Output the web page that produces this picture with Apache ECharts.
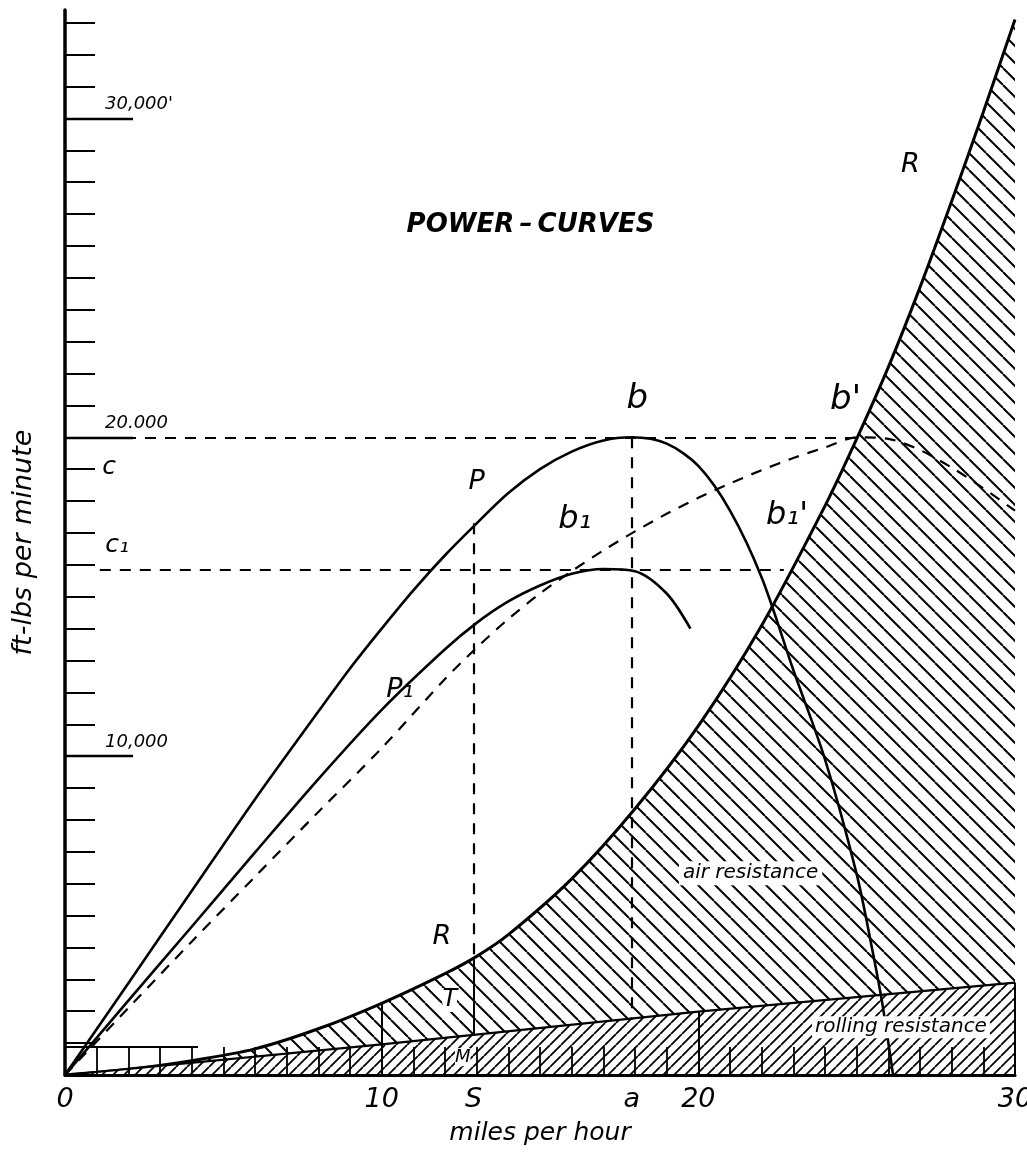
<!DOCTYPE html>
<html>
<head>
<meta charset="utf-8">
<title>Power curves</title>
<script src="https://cdn.jsdelivr.net/npm/echarts@6.0.0/dist/echarts.min.js"></script>
<style>
  html, body { margin: 0; padding: 0; background: #fff; }
  #chart { width: 1027px; height: 1162px; }
</style>
</head>
<body>
<div id="chart"></div>
<script>
// speed in miles per hour, power in ft-lbs per minute
const pCurve = [[0,0],[2,2880],[4,5770],[6,8650],[8,11400],[9,12750],[10,14000],[11,15200],[12,16300],[13,17300],[14,18250],[15,19000],[16,19550],[17,19900],[17.9,20000],[19,19800],[20,19100],[21,17700],[22,15600],[23,12700],[24,9900],[25,6300],[25.5,3900],[25.8,2300],[26.15,0]];
const p1Curve = [[0,0],[2,2330],[4,4650],[6,6980],[8,9280],[10,11450],[12,13350],[13,14180],[14,14850],[15,15350],[16,15720],[17,15870],[18,15800],[19,15100],[19.75,14000]];
const bCurve = [[0,0],[2,2100],[4,4180],[6,6220],[8,8250],[10,10250],[12,12420],[13,13400],[14,14300],[15,15100],[16,15800],[17,16450],[18,17050],[19,17600],[20,18100],[21,18550],[22,18970],[23,19350],[24,19680],[25,20000],[26,19950],[27,19600],[28,19050],[29,18400],[30,17700]];
const rCurve = [[0,0],[2,180],[4,450],[6,820],[8,1450],[10,2250],[12,3180],[13,3720],[14,4400],[16,6150],[18,8350],[20,10950],[22,14100],[24,17850],[25,19950],[26,22200],[27,24700],[28,27400],[29,30200],[30,33100]];
const rolling = [[0,0],[10,960],[20,1990],[30,2900]];

const xLabelValues = [0, 10, 12.9, 17.9, 20, 30];
const xLabelTexts = ['0', '10', 'S', 'a', '20', '30'];
const xTickValues = [0,1,2,3,4,5,6,7,8,9,10,11,12,13,14,15,16,17,18,19,20,21,22,23,24,25,26,27,28,29,30];
const yTickValues = [0,1000,2000,3000,4000,5000,6000,7000,8000,9000,10000,11000,12000,13000,14000,15000,16000,17000,18000,19000,20000,21000,22000,23000,24000,25000,26000,27000,28000,29000,30000,31000,32000,33000];
const yLabelValues = [10000, 20000, 30000];
const yLabelTexts = ['10,000', '20.000', "30,000'"];

const INK = '#000';
const FONT = 'DejaVu Sans';

// hatch tile for the resistance areas
function hatch(step, dir, width, bg) {
  const c = document.createElement('canvas');
  c.width = step; c.height = step;
  const ctx = c.getContext('2d');
  if (bg) { ctx.fillStyle = bg; ctx.fillRect(0, 0, step, step); }
  ctx.strokeStyle = INK;
  ctx.lineWidth = width;
  ctx.beginPath();
  for (let k = -1; k <= 1; k++) {
    if (dir === 'back') { ctx.moveTo(k * step, 0); ctx.lineTo(k * step + step, step); }
    else { ctx.moveTo(k * step, step); ctx.lineTo(k * step + step, 0); }
  }
  ctx.stroke();
  return c;
}

const chart = echarts.init(document.getElementById('chart'));

const dash = { color: INK, width: 2.2, type: [11, 9] };
const thin = { color: INK, width: 2, type: 'solid' };
const seg = (a, b, style) => [{ coord: a, lineStyle: style }, { coord: b }];

const note = (x, y, text, size, extra) => ({
  value: [x, y],
  label: Object.assign({ formatter: text, fontSize: size }, extra || {})
});

const option = {
  animation: false,
  backgroundColor: '#fff',
  grid: { left: 65, right: 12, top: 10, bottom: 87, containLabel: false, outerBoundsMode: 'none' },
  xAxis: {
    type: 'value',
    min: 0,
    max: 30,
    z: 6,
    name: 'miles per hour',
    nameLocation: 'middle',
    nameGap: 46,
    nameTextStyle: { color: INK, fontFamily: FONT, fontStyle: 'italic', fontSize: 25 },
    axisLine: { lineStyle: { color: INK, width: 3 } },
    axisTick: { show: true, inside: true, length: 28, customValues: xTickValues, lineStyle: { color: INK, width: 1.8 } },
    axisLabel: {
      customValues: xLabelValues,
      formatter: v => xLabelTexts[xLabelValues.indexOf(v)],
      color: INK, fontFamily: FONT, fontStyle: 'italic', fontSize: 27, margin: 11
    },
    splitLine: { show: false }
  },
  yAxis: [
    {
      type: 'value',
      min: 0,
      max: 33400,
      z: 6,
      name: 'ft-lbs per minute',
      nameLocation: 'middle',
      nameGap: 28,
      nameRotate: 90,
      nameTextStyle: { color: INK, fontFamily: FONT, fontStyle: 'italic', fontSize: 27 },
      axisLine: { show: true, lineStyle: { color: INK, width: 3.5 } },
      axisTick: { show: true, inside: true, length: 30, customValues: yTickValues, lineStyle: { color: INK, width: 2 } },
      axisLabel: {
        inside: true,
        customValues: yLabelValues,
        formatter: v => yLabelTexts[yLabelValues.indexOf(v)],
        margin: 40,
        verticalAlign: 'bottom',
        padding: [0, 0, 5, 0],
        color: INK, fontFamily: FONT, fontStyle: 'italic', fontSize: 18
      },
      splitLine: { show: false }
    },
    {
      type: 'value',
      min: 0,
      max: 33400,
      z: 6,
      position: 'left',
      axisLine: { show: false },
      axisTick: { show: true, inside: true, length: 68, customValues: yLabelValues, lineStyle: { color: INK, width: 2.4 } },
      axisLabel: { show: false },
      splitLine: { show: false }
    }
  ],
  series: [
    {
      name: 'R',
      type: 'line',
      data: rCurve,
      smooth: 0.3,
      symbol: 'none',
      z: 2,
      lineStyle: { color: INK, width: 3 },
      areaStyle: { color: { image: hatch(17, 'back', 2), repeat: 'repeat' }, opacity: 1 }
    },
    {
      name: 'rolling resistance',
      type: 'line',
      data: rolling,
      symbol: 'none',
      z: 3,
      lineStyle: { color: INK, width: 2.2 },
      areaStyle: { color: { image: hatch(11, 'fwd', 1.8, '#fff'), repeat: 'repeat' }, opacity: 1 }
    },
    {
      name: 'P',
      type: 'line',
      data: pCurve,
      smooth: 0.3,
      symbol: 'none',
      z: 5,
      lineStyle: { color: INK, width: 2.6 }
    },
    {
      name: 'P1',
      type: 'line',
      data: p1Curve,
      smooth: 0.3,
      symbol: 'none',
      z: 5,
      lineStyle: { color: INK, width: 2.6 }
    },
    {
      name: 'b',
      type: 'line',
      data: bCurve,
      smooth: 0.3,
      symbol: 'none',
      z: 5,
      lineStyle: { color: INK, width: 2.2, type: [11, 9] }
    },
    {
      name: 'guides',
      type: 'line',
      data: [],
      z: 4,
      markLine: {
        silent: true,
        symbol: ['none', 'none'],
        label: { show: false },
        data: [
          seg([0, 20000], [25, 20000], dash),
          seg([1.1, 15830], [22.7, 15830], dash),
          seg([12.9, 17300], [12.9, 3680], dash),
          seg([12.9, 3680], [12.9, 1250], thin),
          seg([17.9, 20000], [17.9, 1730], dash),
          seg([10, 0], [10, 2250], thin),
          seg([20, 0], [20, 1990], thin),
          seg([30, 0], [30, 2900], thin),
          seg([0, 880], [4.2, 880], thin)
        ]
      }
    },
    {
      name: 'notes',
      type: 'scatter',
      symbolSize: 0,
      z: 8,
      itemStyle: { opacity: 1 },
      label: {
        show: true,
        position: 'inside',
        color: INK,
        fontFamily: FONT,
        fontStyle: 'italic'
      },
      data: [
        note(14.7, 26650, 'POWER\u2009\u2013\u2009CURVES', 26, { fontWeight: 'bold' }),
        note(18.07, 21200, 'b', 34),
        note(24.65, 21150, "b'", 34),
        note(16.1, 17400, 'b\u2081', 32),
        note(22.8, 17550, "b\u2081'", 32),
        note(13.0, 18590, 'P', 27),
        note(10.57, 12070, 'P\u2081', 27),
        note(26.7, 28530, 'R', 27),
        note(11.9, 4330, 'R', 27),
        note(12.15, 2350, 'T', 24, { backgroundColor: '#fff' }),
        note(12.56, 560, 'M', 18, { backgroundColor: '#fff' }),
        note(1.39, 19060, 'c', 25),
        note(1.65, 16610, 'c\u2081', 25),
        note(21.65, 6330, 'air resistance', 20, { backgroundColor: '#fff', padding: [2, 4] }),
        note(26.4, 1500, 'rolling resistance', 20, { backgroundColor: '#fff', padding: [1, 3] })
      ]
    }
  ]
};

chart.setOption(option);
</script>
</body>
</html>
